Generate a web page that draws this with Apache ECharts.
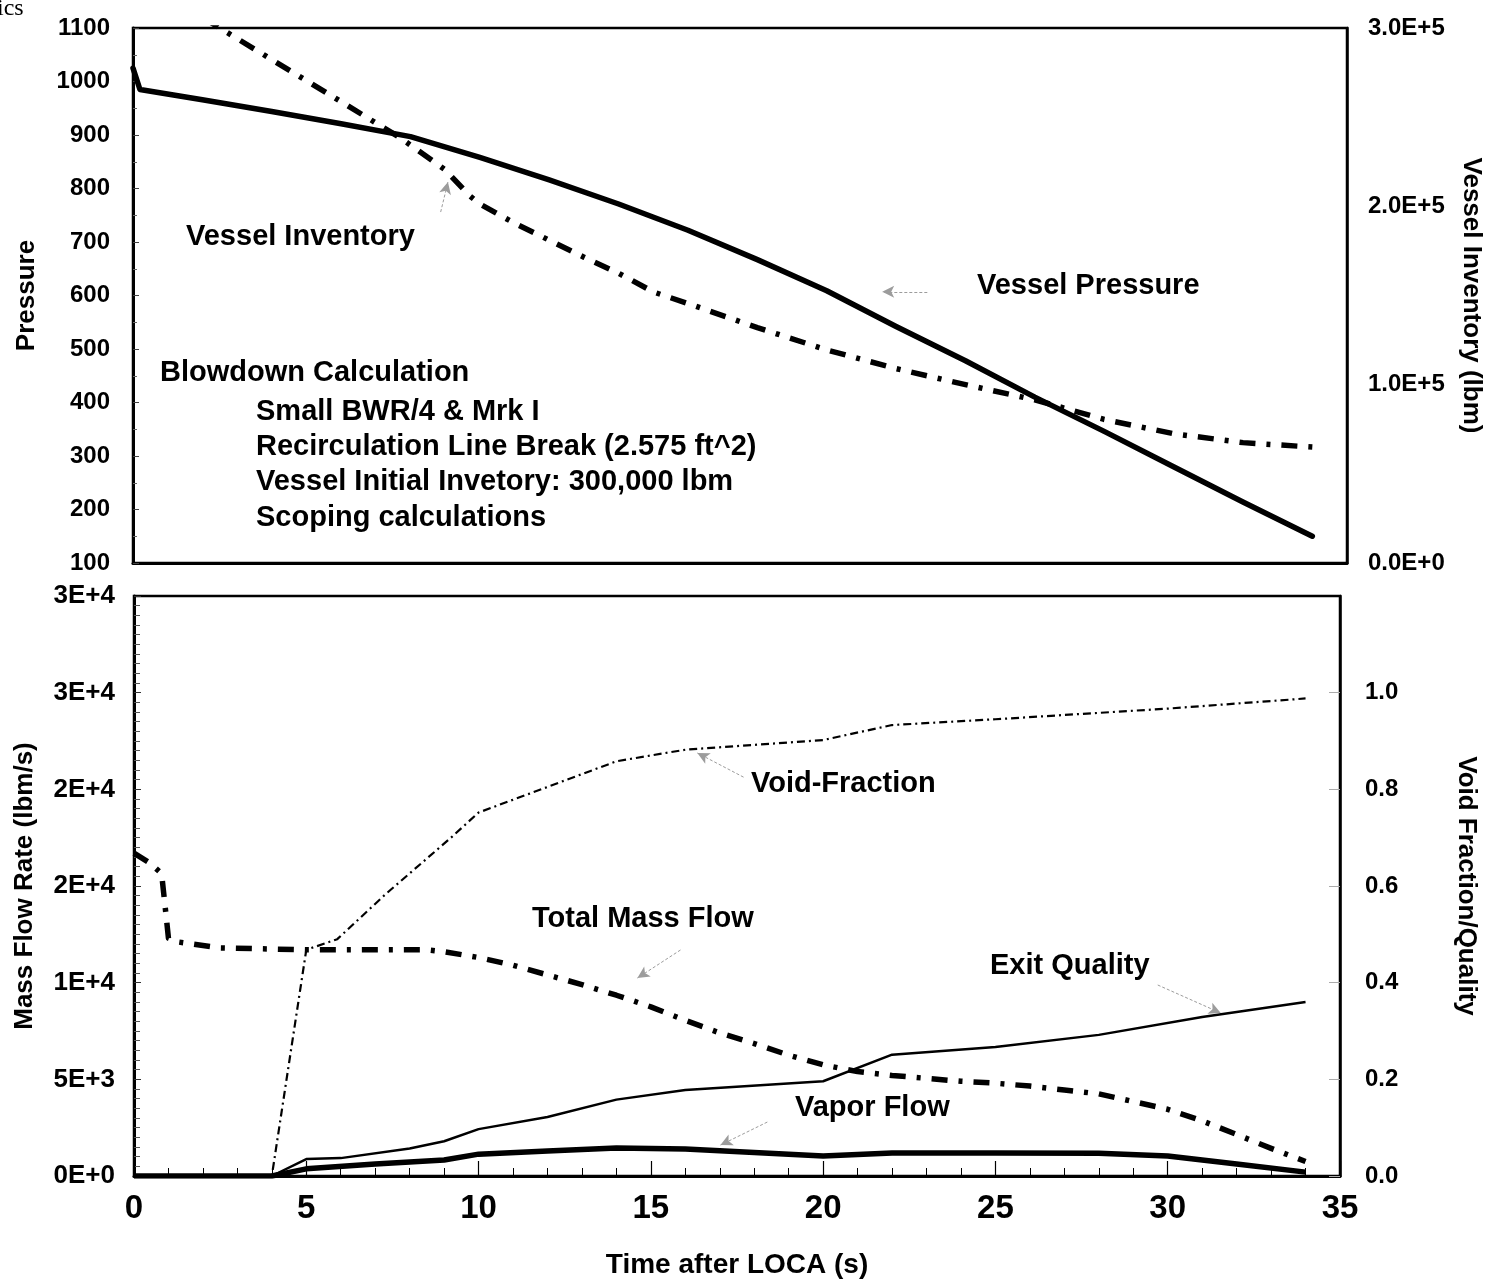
<!DOCTYPE html>
<html>
<head>
<meta charset="utf-8">
<script src="https://cdn.jsdelivr.net/npm/echarts@6/dist/echarts.min.js"></script>
<style>
  html, body { margin: 0; padding: 0; background: #fff; }
  #chart { width: 1499px; height: 1283px; }
</style>
</head>
<body>
<div id="chart"></div>
<script>
// ---- Upper panel: vessel pressure (psia) and vessel inventory (lbm) ----
const pressureTime   = [0, 0.2, 2, 4, 6, 8, 10, 12, 14, 16, 18, 20, 22, 24, 26, 28, 30, 32, 34];
const pressureValues = [1025, 985, 966, 944, 921, 897, 858, 816, 771, 722, 667, 609, 542, 478, 410, 346, 280, 214, 150];

const inventoryTime   = [0, 2.5, 5, 7.7, 9, 9.7, 10, 11, 12, 13, 14, 15, 16, 18, 20, 22, 24, 26, 28, 30, 32, 34];
const inventoryValues = [330000, 300000, 270500, 238500, 220500, 206000, 201300, 190500, 181000, 171500, 162500, 152000, 145500, 132000, 119500, 109000, 100000, 91500, 80500, 72500, 67500, 65000];

// ---- Lower panel: break flows (lbm/s), void fraction and exit quality ----
const totalFlowTime   = [0, 0.45, 0.8, 0.9, 1.0, 1.3, 2.5, 5, 8.5, 9, 10, 11, 12, 13, 14, 15, 16, 17, 18, 19, 20, 21, 22, 23, 24, 25, 26, 27, 28, 29, 30, 31, 32, 33, 34];
const totalFlowValues = [16700, 16200, 15650, 14000, 12300, 12100, 11800, 11700, 11700, 11600, 11300, 10900, 10400, 9900, 9350, 8750, 8050, 7400, 6850, 6250, 5750, 5400, 5200, 5050, 4900, 4800, 4650, 4450, 4250, 3850, 3450, 2850, 2150, 1430, 750];

const vaporFlowTime   = [0, 4, 5, 7, 9, 10, 12, 14, 16, 20, 22, 25, 28, 30, 32, 34];
const vaporFlowValues = [0, 0, 370, 620, 830, 1130, 1290, 1450, 1400, 1030, 1190, 1190, 1180, 1030, 620, 200];

const voidTime   = [0, 4, 5, 5.9, 7.3, 9.2, 10, 12, 14, 16, 20, 22, 25, 30, 34];
const voidValues = [0, 0, 0.468, 0.49, 0.583, 0.70, 0.752, 0.805, 0.858, 0.882, 0.902, 0.933, 0.945, 0.967, 0.988];

const qualityTime   = [0, 4, 5, 6, 8, 9, 10, 12, 14, 16, 20, 22, 25, 28, 31, 34];
const qualityValues = [0, 0, 0.035, 0.037, 0.057, 0.072, 0.097, 0.122, 0.158, 0.178, 0.196, 0.251, 0.267, 0.292, 0.329, 0.36];

// ---- Axis ranges and tick steps ----
const timeAxis      = { min: 0, max: 35, step: 5 };
const pressureAxis  = { min: 100, max: 1100, step: 100 };
const inventoryAxis = { min: 0, max: 300000, step: 100000 };
const flowAxis      = { min: 0, max: 30000, step: 5000 };
const fractionAxis  = { min: 0, max: 1.2, step: 0.2 };

// ---- Callout arrows, tail -> head, in data units of each panel's left axis ----
const upperArrows = [
  [[8.87, 756], [9.08, 812]],
  [[22.9, 607], [21.6, 607]]
];
const lowerArrows = [
  [[17.69, 20630], [16.35, 21880]],
  [[15.86, 11690], [14.61, 10240]],
  [[29.71, 9880], [31.54, 8430]],
  [[18.38, 2790], [17.02, 1600]]
];

const pairs = (t, v) => t.map((x, i) => [x, v[i]]);

const FONT = '"Liberation Sans", Arial, Helvetica, sans-serif';
const black = '#000';
const dashDot = [16, 11, 4, 11];
const fineDashDot = [8, 4, 2, 4];

function tickLabel(size, margin, formatter) {
  return { color: black, fontFamily: FONT, fontWeight: 'bold', fontSize: size, margin: margin, formatter: formatter };
}
function axisName(size) {
  return { color: black, fontFamily: FONT, fontWeight: 'bold', fontSize: size };
}
const axisLine = (w) => ({ show: true, onZero: false, lineStyle: { color: black, width: w } });

const notes = [
  { text: 'Vessel Inventory', x: 186, y: 237 },
  { text: 'Vessel Pressure', x: 977, y: 286 },
  { text: 'Blowdown Calculation', x: 160, y: 373 },
  { text: 'Small BWR/4 & Mrk I', x: 256, y: 412 },
  { text: 'Recirculation Line Break (2.575 ft^2)', x: 256, y: 447 },
  { text: 'Vessel Initial Invetory: 300,000 lbm', x: 256, y: 482 },
  { text: 'Scoping calculations', x: 256, y: 518 },
  { text: 'Void-Fraction', x: 751, y: 784 },
  { text: 'Total Mass Flow', x: 532, y: 919 },
  { text: 'Exit Quality', x: 990, y: 966 },
  { text: 'Vapor Flow', x: 795, y: 1108 }
];

const arrowLine = (list) => ({
  silent: true,
  symbol: ['none', 'arrow'],
  symbolSize: [9, 12],
  label: { show: false },
  emphasis: { disabled: true },
  lineStyle: { color: '#9c9c9c', width: 1, type: [3, 2] },
  data: list.map(a => [{ coord: a[0] }, { coord: a[1] }])
});

const chart = echarts.init(document.getElementById('chart'), null, { renderer: 'canvas' });

chart.setOption({
  animation: false,
  backgroundColor: '#fff',
  textStyle: { fontFamily: FONT },
  grid: [
    { left: 133, right: 152, top: 28, height: 535, show: true, borderColor: black, borderWidth: 2.5, backgroundColor: 'transparent' },
    { left: 134, right: 159, top: 596, height: 580, show: true, borderColor: black, borderWidth: 2.5, backgroundColor: 'transparent' }
  ],
  xAxis: [
    {
      gridIndex: 0, type: 'value', min: timeAxis.min, max: timeAxis.max, interval: timeAxis.step,
      axisLine: axisLine(3), axisTick: { show: false }, axisLabel: { show: false }, splitLine: { show: false }
    },
    {
      gridIndex: 1, type: 'value', min: timeAxis.min, max: timeAxis.max, interval: timeAxis.step,
      axisLine: axisLine(3),
      axisTick: { show: true, inside: true, length: 15, lineStyle: { color: black, width: 1.2 } },
      minorTick: { show: true, splitNumber: 5, length: 8, lineStyle: { color: black, width: 1 } },
      axisLabel: tickLabel(33, 16, v => String(v)),
      splitLine: { show: false },
      name: 'Time after LOCA (s)', nameLocation: 'middle', nameGap: 75,
      nameTextStyle: axisName(28)
    }
  ],
  yAxis: [
    {
      gridIndex: 0, type: 'value', position: 'left',
      min: pressureAxis.min, max: pressureAxis.max, interval: pressureAxis.step,
      axisLine: axisLine(3),
      axisTick: { show: true, inside: true, length: 6, lineStyle: { color: '#444', width: 1 } },
      minorTick: { show: true, splitNumber: 2, length: 4, lineStyle: { color: '#666', width: 1 } },
      axisLabel: tickLabel(24, 23, v => String(v)),
      splitLine: { show: false },
      name: 'Pressure', nameLocation: 'middle', nameGap: 93, nameTextStyle: axisName(26)
    },
    {
      gridIndex: 0, type: 'value', position: 'right',
      min: inventoryAxis.min, max: inventoryAxis.max, interval: inventoryAxis.step,
      axisLine: axisLine(2.5), axisTick: { show: false },
      axisLabel: tickLabel(24, 21, v => v.toExponential(1).toUpperCase()),
      splitLine: { show: false },
      name: 'Vessel Inventory (lbm)', nameLocation: 'middle', nameRotate: -90, nameGap: 111,
      nameTextStyle: axisName(26)
    },
    {
      gridIndex: 1, type: 'value', position: 'left',
      min: flowAxis.min, max: flowAxis.max, interval: flowAxis.step,
      axisLine: axisLine(3),
      axisTick: { show: true, inside: true, length: 7, lineStyle: { color: '#333', width: 1 } },
      minorTick: { show: true, splitNumber: 10, length: 6, lineStyle: { color: '#555', width: 1 } },
      axisLabel: tickLabel(26, 19, v => v.toExponential(0).toUpperCase()),
      splitLine: { show: false },
      name: 'Mass Flow Rate (lbm/s)', nameLocation: 'middle', nameGap: 96, nameTextStyle: axisName(26)
    },
    {
      gridIndex: 1, type: 'value', position: 'right',
      min: fractionAxis.min, max: fractionAxis.max, interval: fractionAxis.step,
      axisLine: axisLine(2.5),
      axisTick: { show: true, inside: true, length: 11, lineStyle: { color: '#aaa', width: 1 } },
      axisLabel: Object.assign(tickLabel(24, 25, v => v.toFixed(1)), { showMaxLabel: false }),
      splitLine: { show: false },
      name: 'Void Fraction/Quality', nameLocation: 'middle', nameRotate: -90, nameGap: 113,
      nameTextStyle: axisName(26)
    }
  ],
  series: [
    {
      name: 'Vessel Pressure', type: 'line', xAxisIndex: 0, yAxisIndex: 0,
      data: pairs(pressureTime, pressureValues), showSymbol: false, clip: true,
      lineStyle: { color: black, width: 5.5, join: 'round', cap: 'round' },
      markLine: arrowLine(upperArrows)
    },
    {
      name: 'Vessel Inventory', type: 'line', xAxisIndex: 0, yAxisIndex: 1,
      data: pairs(inventoryTime, inventoryValues), showSymbol: false, clip: true,
      lineStyle: { color: black, width: 5.5, type: dashDot, cap: 'butt', join: 'round' }
    },
    {
      name: 'Total Mass Flow', type: 'line', xAxisIndex: 1, yAxisIndex: 2,
      data: pairs(totalFlowTime, totalFlowValues), showSymbol: false, clip: true,
      lineStyle: { color: black, width: 5.5, type: dashDot, cap: 'butt', join: 'round' },
      markLine: arrowLine(lowerArrows)
    },
    {
      name: 'Vapor Flow', type: 'line', xAxisIndex: 1, yAxisIndex: 2,
      data: pairs(vaporFlowTime, vaporFlowValues), showSymbol: false, clip: true,
      lineStyle: { color: black, width: 5.5, join: 'round' }
    },
    {
      name: 'Void-Fraction', type: 'line', xAxisIndex: 1, yAxisIndex: 3,
      data: pairs(voidTime, voidValues), showSymbol: false, clip: true,
      lineStyle: { color: black, width: 2.2, type: fineDashDot }
    },
    {
      name: 'Exit Quality', type: 'line', xAxisIndex: 1, yAxisIndex: 3,
      data: pairs(qualityTime, qualityValues), showSymbol: false, clip: true,
      lineStyle: { color: black, width: 2.5, join: 'round' }
    }
  ],
  graphic: [
    {
      type: 'text', x: -3, y: 9, silent: true,
      style: { text: 'ics', font: '24px "Liberation Serif", "Times New Roman", serif', fill: black, verticalAlign: 'middle' }
    }
  ].concat(notes.map(n => ({
    type: 'text', x: n.x, y: n.y, silent: true,
    style: { text: n.text, font: 'bold 29px ' + FONT, fill: black, verticalAlign: 'middle' }
  })))
});
</script>
</body>
</html>
